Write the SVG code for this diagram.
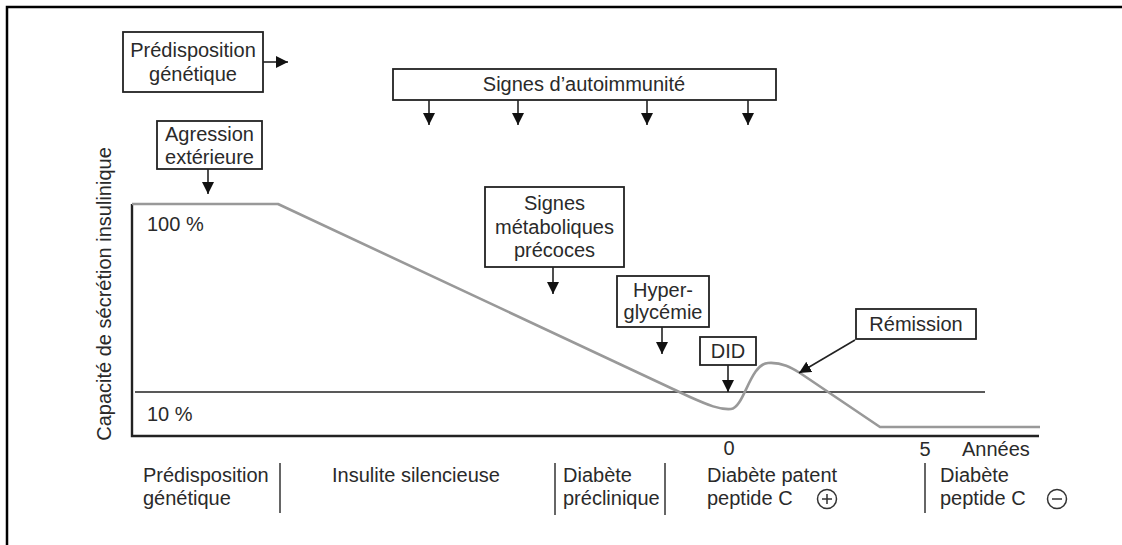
<svg xmlns="http://www.w3.org/2000/svg" width="1122" height="545" viewBox="0 0 1122 545">
  <style>
    text { font-family: "Liberation Sans", Arial, sans-serif; font-size: 20px; fill: #2a2a2a; }
    .c { text-anchor: middle; }
    .box { fill: #fff; stroke: #222; stroke-width: 1.8; }
    .ln { stroke: #222; stroke-width: 1.6; fill: none; }
    .ax { stroke: #222; stroke-width: 2.4; fill: none; }
    .curve { stroke: #999; stroke-width: 2.6; fill: none; stroke-linejoin: round; }
    .sep { stroke: #333; stroke-width: 1.5; }
    .sign { fill: none; stroke: #333; stroke-width: 1.5; }
  </style>
  <defs>
    <marker id="ah" viewBox="0 0 10 10" refX="10" refY="5" markerWidth="12" markerHeight="12" markerUnits="userSpaceOnUse" orient="auto">
      <path d="M0,0 L10,5 L0,10 z" fill="#111"/>
    </marker>
  </defs>
  <rect width="1122" height="545" fill="#fff"/>
  <path d="M7,545 V7 H1122" stroke="#000" stroke-width="2.5" fill="none"/>

  <g id="axes">
    <path class="ax" d="M132,204 V436 H1039"/>
    <line class="ln" x1="135" y1="392" x2="985" y2="392"/>
    <text x="147" y="231">100 %</text>
    <text x="147" y="421">10 %</text>
    <text class="c" transform="translate(111,294) rotate(-90)">Capacité de sécrétion insulinique</text>
    <text class="c" x="729" y="455">0</text>
    <text class="c" x="925" y="456">5</text>
    <text x="962" y="456">Années</text>
  </g>

  <g id="curve">
    <path class="curve" d="M132,204 H278 L690,397 C708,405 720,410 731,409 C744,408 750,364 768,363 C782,362 792,368 800,373 L880,427 H1040"/>
  </g>

  <g id="connectors">
    <line class="ln" x1="263" y1="62" x2="288" y2="62" marker-end="url(#ah)"/>
    <line class="ln" x1="208" y1="169" x2="208" y2="194" marker-end="url(#ah)"/>
    <line class="ln" x1="429" y1="100" x2="429" y2="125" marker-end="url(#ah)"/>
    <line class="ln" x1="518" y1="100" x2="518" y2="125" marker-end="url(#ah)"/>
    <line class="ln" x1="647" y1="100" x2="647" y2="125" marker-end="url(#ah)"/>
    <line class="ln" x1="748" y1="100" x2="748" y2="125" marker-end="url(#ah)"/>
    <line class="ln" x1="553" y1="267" x2="553" y2="294" marker-end="url(#ah)"/>
    <line class="ln" x1="662" y1="327" x2="662" y2="354" marker-end="url(#ah)"/>
    <line class="ln" x1="728" y1="365" x2="728" y2="392" marker-end="url(#ah)"/>
    <line class="ln" x1="855" y1="340" x2="799" y2="373" marker-end="url(#ah)"/>
  </g>

  <g id="predisposition-box">
    <rect class="box" x="123" y="32" width="140" height="60"/>
    <text class="c" x="193" y="57">Prédisposition</text>
    <text class="c" x="193" y="81">génétique</text>
  </g>
  <g id="agression-box">
    <rect class="box" x="157" y="121" width="105" height="48"/>
    <text class="c" x="209.5" y="141">Agression</text>
    <text class="c" x="209.5" y="164">extérieure</text>
  </g>
  <g id="autoimmunite-box">
    <rect class="box" x="393" y="69" width="383" height="31"/>
    <text class="c" x="584" y="91">Signes d’autoimmunité</text>
  </g>
  <g id="metaboliques-box">
    <rect class="box" x="485" y="187" width="139" height="80"/>
    <text class="c" x="554.5" y="210">Signes</text>
    <text class="c" x="554.5" y="234">métaboliques</text>
    <text class="c" x="554.5" y="257">précoces</text>
  </g>
  <g id="hyperglycemie-box">
    <rect class="box" x="617" y="276" width="92" height="51"/>
    <text class="c" x="663" y="297">Hyper-</text>
    <text class="c" x="663" y="319">glycémie</text>
  </g>
  <g id="did-box">
    <rect class="box" x="700" y="337" width="56" height="28"/>
    <text class="c" x="728" y="358">DID</text>
  </g>
  <g id="remission-box">
    <rect class="box" x="856" y="309" width="120" height="30"/>
    <text class="c" x="916" y="331">Rémission</text>
  </g>

  <g id="phases">
    <text x="143" y="482">Prédisposition</text>
    <text x="143" y="505">génétique</text>
    <line class="sep" x1="280" y1="463" x2="280" y2="513"/>
    <text x="332" y="482">Insulite silencieuse</text>
    <line class="sep" x1="555" y1="463" x2="555" y2="515"/>
    <text x="563" y="482">Diabète</text>
    <text x="563" y="505">préclinique</text>
    <line class="sep" x1="665" y1="463" x2="665" y2="515"/>
    <text x="707" y="482">Diabète patent</text>
    <text x="707" y="505">peptide C</text>
    <circle class="sign" cx="827" cy="499" r="9.5"/>
    <path class="sign" d="M822,499 H832 M827,494 V504"/>
    <line class="sep" x1="925" y1="463" x2="925" y2="513"/>
    <text x="940" y="482">Diabète</text>
    <text x="940" y="505">peptide C</text>
    <circle class="sign" cx="1057" cy="499" r="9.5"/>
    <path class="sign" d="M1052,499 H1062"/>
  </g>
</svg>
